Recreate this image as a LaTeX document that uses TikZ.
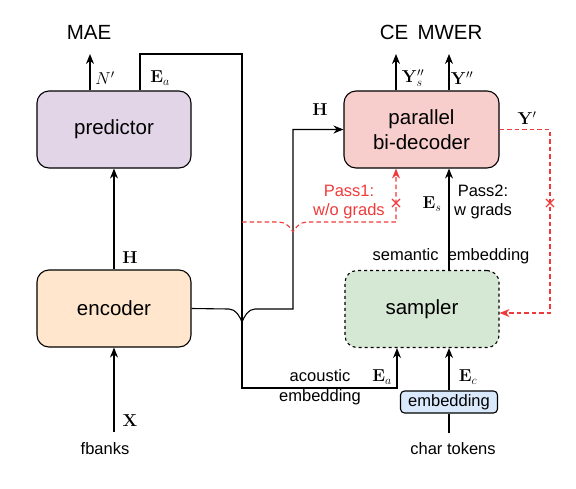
\documentclass[tikz,border=0pt]{standalone}
\usepackage[no-math]{fontspec}
\setmainfont{Liberation Sans}
\usetikzlibrary{arrows.meta,shapes.misc}
\definecolor{predfill}{HTML}{E1D5E7}
\definecolor{encfill}{HTML}{FFE6CC}
\definecolor{decfill}{HTML}{F8CECC}
\definecolor{samfill}{HTML}{D5E8D4}
\definecolor{embfill}{HTML}{DAE8FC}
\definecolor{gradred}{HTML}{F03A3A}
\begin{document}
\begin{tikzpicture}[x=1pt, y=-1pt, line width=1.1pt,
    >={Stealth[length=10pt,width=8pt]},
    block/.style={draw, rounded corners=12pt, minimum width=154pt,
        minimum height=77pt, align=center, font=\fontsize{20.5}{25}\selectfont},
    head/.style={font=\fontsize{20.5}{24}\selectfont, inner sep=1pt},
    lbl/.style={font=\fontsize{16.5}{20}\selectfont, align=center, inner sep=1pt},
    grad/.style={draw=gradred, dash pattern=on 4.5pt off 3pt},
    stopmark/.style={cross out, draw=gradred, line width=1.1pt,
        minimum size=7pt, inner sep=0pt}]
    \useasboundingbox (0,0) rectangle (576,488);

    % blocks
    \node[block, fill=predfill] (predictor) at (114,129.5) {predictor};
    \node[block, fill=encfill] (encoder) at (114,308.5) {encoder};
    \node[block, fill=decfill, minimum width=155pt] (decoder) at (421.5,129.5) {parallel\\bi-decoder};
    \node[block, fill=samfill, dashed] (sampler) at (422,309) {sampler};
    \node[lbl, draw, fill=embfill, rounded corners=4pt, minimum width=97pt,
        minimum height=22pt] (embed) at (449,402) {embedding};

    % texts
    \node[head] (mae) at (89,32) {MAE};
    \node[head] (ce) at (394,32) {CE};
    \node[head] (mwer) at (450,32) {MWER};
    \node[lbl] (fbanks) at (105,449) {fbanks};
    \node[lbl] (chars) at (453,449) {char tokens};

    \coordinate (nout) at (90,54);
    \coordinate (ysout) at (396,54);
    \coordinate (yout) at (449,54);
    \coordinate (xin) at (114,432);
    \coordinate (cin) at (449,433);
    \coordinate (ea1) at (140,54);
    \coordinate (ea2) at (242,54);
    \coordinate (ea3) at (242,388);
    \coordinate (acin) at (397,388);
    \coordinate (hup) at (293,309);
    \coordinate (pass1) at (242,222);
    \coordinate (pass1up) at (396,222);
    \coordinate (ycorner) at (550,313);

    \path[->]
        (encoder) edge (predictor)
        (xin) edge (encoder.south)
        (predictor.north -| nout) edge (nout)
        (decoder.north -| ysout) edge (ysout)
        (decoder.north -| yout) edge (yout)
        (sampler.north -| embed) edge (decoder.south -| embed)
        (embed.north) edge (sampler.south -| embed);
    \draw (cin) -- (embed.south);

    % acoustic embedding
    \draw[->] (predictor.north -| ea1) -- (ea1) -- (ea2) -- (ea3)
        -- (acin) -- (sampler.south -| acin);
    % encoder output, hops over the line above
    \draw[->] (encoder.east) -- (229,309)
        .. controls (236,309) and (240,317) .. (242,322)
        .. controls (244,317) and (248,309) .. (255,309)
        -- (hup) |- (decoder.west);

    % red passes
    \draw[grad, ->, gradred] (pass1) -- (279,222)
        .. controls (286,222) and (291,228) .. (293,232)
        .. controls (295,228) and (300,222) .. (307,222)
        -- (pass1up) -- (decoder.south -| pass1up);
    \draw[grad, ->, gradred] (decoder.east) -| (ycorner) -- (sampler.east |- ycorner);
    \node[stopmark] (stop1) at (396,203) {};
    \node[stopmark] (stop2) at (550,203) {};

    % labels
    \node[lbl] (nlab) at (105,78) {$N'$};
    \node[lbl] (ealab) at (160,78) {$\mathbf{E}_a$};
    \node[lbl] (hlab) at (130,258) {$\mathbf{H}$};
    \node[lbl] (xlab) at (130,421) {$\mathbf{X}$};
    \node[lbl] (hdlab) at (320,110) {$\mathbf{H}$};
    \node[lbl] (yslab) at (413,78) {$\mathbf{Y}''_s$};
    \node[lbl] (ylab) at (462,78) {$\mathbf{Y}''$};
    \node[lbl] (yplab) at (527,118) {$\mathbf{Y}'$};
    \node[lbl] (eslab) at (432,204) {$\mathbf{E}_s$};
    \node[lbl, text=gradred, font=\fontsize{16.5}{19}\selectfont] (p1lab) at (349,202) {Pass1:\\w/o grads};
    \node[lbl, font=\fontsize{16.5}{19}\selectfont] (p2lab) at (483,202) {Pass2:\\w grads};
    \node[lbl] (semlab) at (451,256) {semantic\ \ embedding};
    \node[lbl] (aclab) at (320,387) {acoustic\\embedding};
    \node[lbl] (ealab2) at (382,377) {$\mathbf{E}_a$};
    \node[lbl] (eclab) at (468,377) {$\mathbf{E}_c$};
\end{tikzpicture}
\end{document}
